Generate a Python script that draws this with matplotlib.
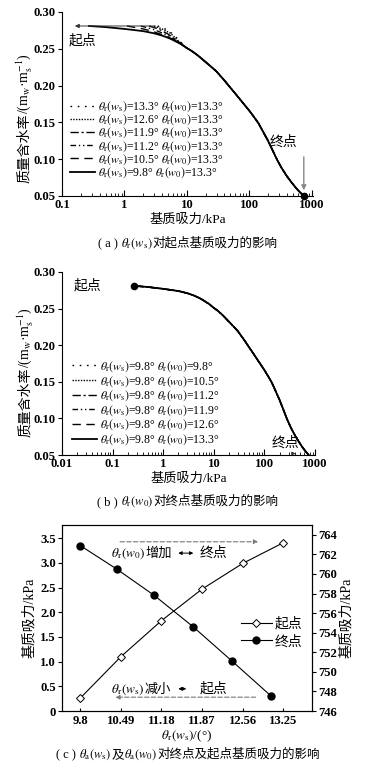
import matplotlib
matplotlib.use("Agg")
import matplotlib.pyplot as plt
from matplotlib.transforms import IdentityTransform

plt.rcParams['font.family'] = ['Liberation Serif', 'Noto Sans CJK SC']
plt.rcParams['mathtext.fontset'] = 'stix'
plt.rcParams['axes.unicode_minus'] = False

# ---------------- data ----------------
# main SWCC (a)/(b): suction (kPa) and gravimetric water content
main_s = [0.27, 0.5, 1, 2, 3, 4, 5, 6, 7, 8, 10, 12, 15, 20, 25, 30, 40, 50, 60, 70, 80,
          100, 120, 140, 170, 200, 240, 280, 330, 400, 480, 560, 650, 748]
main_w = [0.281, 0.2795, 0.277, 0.274, 0.271, 0.268, 0.265, 0.262, 0.259, 0.2565, 0.251,
          0.247, 0.241, 0.232, 0.225, 0.219, 0.207, 0.197, 0.189, 0.182, 0.176,
          0.166, 0.157, 0.149, 0.136, 0.125, 0.111, 0.099, 0.088, 0.077, 0.068, 0.061, 0.055, 0.050]

# panel (a): starting branches for different theta_r(w_s) (they merge with main curve at 10 kPa)
a_labels_ws = ['13.3', '12.6', '11.9', '11.2', '10.5', '9.8']
a_head_s = [[3.41, 4.5, 6, 8],
            [2.99, 4, 5.5, 7],
            [2.47, 3.5, 5, 7],
            [1.83, 3, 5, 7],
            [1.10, 2, 3, 5, 7],
            None]
a_head_w = [[0.281, 0.277, 0.270, 0.259],
            [0.281, 0.277, 0.271, 0.262],
            [0.281, 0.277, 0.270, 0.261],
            [0.281, 0.276, 0.268, 0.260],
            [0.281, 0.277, 0.273, 0.266, 0.260],
            None]

# panel (b): end suctions for theta_r(w0)
b_labels_w0 = ['9.8', '10.5', '11.2', '11.9', '12.6', '13.3']
b_end_s = [762.9, 760.5, 757.8, 754.6, 751.1, 747.5]

# panel (c)
c_ticks = [9.8, 10.49, 11.18, 11.87, 12.56, 13.25]
c_start_x = [9.8, 10.49, 11.18, 11.87, 12.56, 13.25]
c_start_y = [0.26, 1.10, 1.83, 2.47, 2.99, 3.41]
c_end_x = [9.8, 10.42, 11.06, 11.72, 12.38, 13.05]
c_end_y = [762.9, 760.5, 757.8, 754.6, 751.1, 747.5]

styles = [(0, (1.2, 4)), (0, (1, 1)), (0, (6, 2, 1.5, 2)), (0, (4, 2, 1, 2, 1, 2)), (0, (6, 4)), '-']

fig = plt.figure(figsize=(3.76, 7.69), dpi=100)
W, H = 376, 769


def box(l, t, r, b):
    return [l / W, 1 - b / H, (r - l) / W, (b - t) / H]


def rich(x, y, pieces, fs, rotation=0, align='center'):
    """Draw a sequence of text pieces; (x, y) display pixels of baseline anchor."""
    r = fig.canvas.get_renderer()
    ws = []
    for s in pieces:
        t = fig.text(0, 0, s, fontsize=fs)
        ws.append(t.get_window_extent(renderer=r).width)
        t.remove()
    off = -sum(ws) / 2 if align == 'center' else 0
    for s, w in zip(pieces, ws):
        if rotation == 0:
            px, py = x + off, y
        else:
            px, py = x, y + off
        fig.text(px, py, s, fontsize=fs, ha='left', va='baseline', rotation=rotation,
                 rotation_mode='anchor', transform=IdentityTransform())
        off += w


tick_fs = 9.1
ylab_pieces = ['质量含水率', '/(m$_{\\rm w}$·m$_{\\rm s}^{-1}$)']


def style_swcc(ax, xlim, xticks, xticklabels):
    ax.set_xscale('log')
    ax.set_xlim(*xlim)
    ax.set_ylim(0.05, 0.30)
    ax.set_yticks([0.05, 0.10, 0.15, 0.20, 0.25, 0.30])
    ax.set_yticklabels(['0.05', '0.10', '0.15', '0.20', '0.25', '0.30'], fontsize=tick_fs, fontweight='bold')
    ax.set_xticks(xticks)
    ax.set_xticklabels(xticklabels, fontsize=tick_fs, fontweight='bold')
    ax.spines['top'].set_visible(False)
    ax.spines['right'].set_visible(False)
    ax.tick_params(axis='x', which='major', direction='in', length=4, width=0.8, pad=2)
    ax.tick_params(axis='x', which='minor', direction='in', length=2, width=0.6)
    ax.tick_params(axis='y', direction='out', length=3, width=0.8, pad=1.5)
    ax.set_xlabel('基质吸力/kPa', fontsize=9.5, labelpad=2)


leg_kw = dict(frameon=False, fontsize=8.5, handlelength=2.1, handletextpad=0.25,
              borderpad=0, borderaxespad=0)

# ---------------- panel (a) ----------------
axa = fig.add_axes(box(62, 12, 313, 196))
tail_idx = main_s.index(10)
handles = []
for i, lab in enumerate(a_labels_ws):
    if a_head_s[i] is None:
        s, w = main_s, main_w
        lw = 1.3
    else:
        s = a_head_s[i] + main_s[tail_idx:]
        w = a_head_w[i] + main_w[tail_idx:]
        lw = 1.0
    ln, = axa.plot(s, w, color='black', lw=lw, linestyle=styles[i],
                   label=r'$\theta_{\rm r}(w_{\rm s})$=' + lab + r'° $\theta_{\rm r}(w_0)$=13.3°')
    handles.append(ln)
style_swcc(axa, (0.1, 1050), [0.1, 1, 10, 100, 1000], ['0.1', '1', '10', '100', '1000'])
axa.annotate('', xy=(0.145, 0.281), xytext=(3.41, 0.281),
             arrowprops=dict(arrowstyle='-|>', color='#333333', lw=0.7, mutation_scale=6))
axa.plot([main_s[-1]], [main_w[-1]], 'o', color='black', ms=4.5, clip_on=False, zorder=5)
axa.annotate('', xy=(main_s[-1], 0.054), xytext=(main_s[-1], 0.107),
             arrowprops=dict(arrowstyle='-|>', color='#888888', lw=1.0, mutation_scale=7))
axa.text(0.13, 0.261, '起点', fontsize=10, ha='left', va='center')
axa.text(350, 0.124, '终点', fontsize=10, ha='center', va='center')
axa.legend(handles=handles, loc='lower left', bbox_to_anchor=(8 / 251, 16 / 184),
           labelspacing=-0.12, **leg_kw)
rich(28, H - 118, ylab_pieces, 10, rotation=90)
rich(188, H - 247, ['( a ) ', r'$\theta_{\rm r}(w_{\rm s})$', '对起点基质吸力的影响'], 9)

# ---------------- panel (b) ----------------
axb = fig.add_axes(box(62, 272, 315, 455))
handles = []
for i, lab in enumerate(b_labels_w0):
    s = main_s[:-1] + [b_end_s[i]]
    lw = 1.3 if styles[i] == '-' else 1.0
    ln, = axb.plot(s, main_w, color='black', lw=lw, linestyle=styles[i],
                   label=r'$\theta_{\rm r}(w_{\rm s})$=9.8° $\theta_{\rm r}(w_0)$=' + lab + '°')
    handles.append(ln)
style_swcc(axb, (0.01, 1000), [0.01, 0.1, 1, 10, 100, 1000], ['0.01', '0.1', '1', '10', '100', '1000'])
axb.plot([main_s[0]], [main_w[0]], 'o', color='black', ms=4.5, zorder=5)
axb.annotate('', xy=(470, 0.052), xytext=(310, 0.052),
             arrowprops=dict(arrowstyle='-|>', color='#333333', lw=0.7, mutation_scale=5))
axb.text(0.032, 0.281, '起点', fontsize=10, ha='center', va='center')
axb.text(265, 0.067, '终点', fontsize=10, ha='center', va='center')
axb.legend(handles=handles, loc='lower left', bbox_to_anchor=(10 / 253, 8 / 183),
           labelspacing=0.0, **leg_kw)
rich(29, H - 372, ylab_pieces, 10, rotation=90)
rich(188, H - 505, ['( b ) ', r'$\theta_{\rm r}(w_0)$', '对终点基质吸力的影响'], 9)

# ---------------- panel (c) ----------------
axc = fig.add_axes(box(62, 525, 312, 711))
axc2 = axc.twinx()
l1, = axc.plot(c_start_x, c_start_y, '-', color='black', lw=0.8, marker='D', ms=4,
               mfc='white', mec='black', mew=0.7, label='起点')
l2, = axc2.plot(c_end_x, c_end_y, '-', color='black', lw=0.8, marker='o', ms=5,
                mfc='black', mec='black', label='终点')
axc.set_xlim(9.49, 13.74)
axc.set_ylim(0, 3.77)
axc2.set_ylim(746, 765)
axc.set_xticks(c_ticks)
axc.set_xticklabels(['9.8', '10.49', '11.18', '11.87', '12.56', '13.25'], fontsize=tick_fs, fontweight='bold')
axc.set_yticks([0, 0.5, 1.0, 1.5, 2.0, 2.5, 3.0, 3.5])
axc.set_yticklabels(['0', '0.5', '1.0', '1.5', '2.0', '2.5', '3.0', '3.5'], fontsize=tick_fs, fontweight='bold')
axc2.set_yticks(list(range(746, 765, 2)))
axc2.set_yticklabels([str(v) for v in range(746, 765, 2)], fontsize=tick_fs, fontweight='bold')
axc.tick_params(axis='x', direction='in', length=2, width=0.8, pad=3)
axc.tick_params(axis='y', direction='out', length=3, width=0.8, pad=1.5)
axc2.tick_params(axis='y', direction='out', length=3, width=0.8, pad=1.5)
axc.set_ylabel('基质吸力/kPa', fontsize=10, labelpad=3)
axc2.set_ylabel('基质吸力/kPa', fontsize=10, labelpad=2, rotation=90)
axc.set_xlabel(r'$\theta_{\rm r}(w_{\rm s})$/(°)', fontsize=9.5, labelpad=1)
axc.legend(handles=[l1, l2], loc='center right', bbox_to_anchor=(1.0, 0.42), frameon=False,
           fontsize=10, handlelength=2.2, handletextpad=0.2, labelspacing=0.3, borderaxespad=0.3)
# annotations
axc.annotate('', xy=(12.87, 3.43), xytext=(10.43, 3.43),
             arrowprops=dict(arrowstyle='-|>', color='#777777', lw=0.8, linestyle=(0, (4, 2)),
                             mutation_scale=6))
axc.annotate('', xy=(11.42, 3.20), xytext=(11.77, 3.20),
             arrowprops=dict(arrowstyle='<|-|>', color='black', lw=0.7, mutation_scale=5))
axc.annotate('', xy=(10.35, 0.28), xytext=(12.83, 0.28),
             arrowprops=dict(arrowstyle='-|>', color='#777777', lw=0.8, linestyle=(0, (4, 2)),
                             mutation_scale=6))
axc.annotate('', xy=(11.42, 0.45), xytext=(11.65, 0.45),
             arrowprops=dict(arrowstyle='<|-|>', color='black', lw=0.7, mutation_scale=5))
p = axc.transData.transform((10.33, 3.20))
rich(p[0], p[1] - 4, [r'$\theta_{\rm r}(w_0)$', '增加'], 9.5, align='left')
p = axc.transData.transform((11.83, 3.20))
rich(p[0], p[1] - 4, ['终点'], 10, align='left')
p = axc.transData.transform((10.33, 0.45))
rich(p[0], p[1] - 4, [r'$\theta_{\rm r}(w_{\rm s})$', '减小'], 9.5, align='left')
p = axc.transData.transform((11.83, 0.45))
rich(p[0], p[1] - 4, ['起点'], 10, align='left')
rich(188, H - 758, ['( c ) ', r'$\theta_{\rm a}(w_{\rm s})$', '及', r'$\theta_{\rm a}(w_0)$',
                    '对终点及起点基质吸力的影响'], 9)

fig.savefig('out.png', dpi=100)
